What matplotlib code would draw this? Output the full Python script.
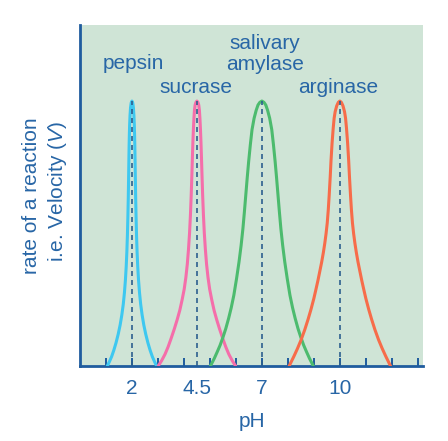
"""
Enzyme activity vs pH: optimum pH of four enzymes.
"""
import matplotlib.pyplot as plt

plt.rcParams["font.family"] = ["Liberation Sans", "DejaVu Sans"]
plt.rcParams["mathtext.fontset"] = "custom"
plt.rcParams["mathtext.rm"] = "Liberation Sans"
plt.rcParams["mathtext.it"] = "Liberation Sans:italic"

# optimum pH of each enzyme
enzymes = ["pepsin", "sucrase", "salivary amylase", "arginase"]
optimum_ph = [2, 4.5, 7, 10]
tick_labels = ["2", "4.5", "7", "10"]

# curves (rate relative to the peak)
pepsin_ph = [1.05, 1.13, 1.215, 1.30, 1.385, 1.47, 1.545, 1.61, 1.665, 1.71, 1.748, 1.778,
             1.803, 1.825, 1.843, 1.858, 1.87, 1.88, 1.89, 1.90, 1.91, 1.925, 1.945, 1.97, 2.0,
             2.03, 2.055, 2.075, 2.09, 2.10, 2.11, 2.12, 2.13, 2.142, 2.157, 2.175, 2.197,
             2.222, 2.252, 2.29, 2.335, 2.39, 2.455, 2.53, 2.615, 2.70, 2.785, 2.87, 2.95]
pepsin_rate = [0, .016, .035, .059, .087, .12, .155, .193, .233, .277, .325, .375,
               .43, .495, .565, .635, .705, .77, .83, .875, .91, .945, .975, .993, 1.0,
               .993, .975, .945, .91, .875, .83, .77, .705, .635, .565, .495, .43,
               .375, .325, .277, .233, .193, .155, .12, .087, .059, .035, .016, 0]

sucrase_ph = [3.01, 3.14, 3.27, 3.39, 3.51, 3.63, 3.74, 3.84, 3.93, 4.01, 4.075, 4.13,
              4.175, 4.215, 4.25, 4.28, 4.305, 4.325, 4.345, 4.365, 4.385, 4.405, 4.43, 4.46, 4.5,
              4.54, 4.57, 4.595, 4.615, 4.635, 4.655, 4.675, 4.695, 4.72, 4.75, 4.785, 4.825,
              4.87, 4.925, 4.99, 5.07, 5.16, 5.26, 5.37, 5.49, 5.61, 5.73, 5.86, 5.99]
sucrase_rate = [0, .02, .044, .072, .105, .14, .175, .21, .25, .29, .335, .385,
                .44, .50, .57, .645, .72, .785, .845, .895, .935, .965, .985, .995, 1.0,
                .995, .985, .965, .935, .895, .845, .785, .72, .645, .57, .50, .44,
                .385, .335, .29, .25, .21, .175, .14, .105, .072, .044, .02, 0]

amylase_ph = [5.02, 5.17, 5.28, 5.39, 5.50, 5.61, 5.72, 5.82, 5.92, 6.025, 6.12, 6.20,
              6.27, 6.325, 6.38, 6.435, 6.49, 6.555, 6.62, 6.70, 6.78, 6.85, 6.92, 7.0,
              7.08, 7.15, 7.22, 7.30, 7.38, 7.445, 7.51, 7.565, 7.62, 7.675, 7.73, 7.80,
              7.88, 7.975, 8.08, 8.18, 8.28, 8.39, 8.50, 8.61, 8.72, 8.83, 8.98]
amylase_rate = [0, .029, .053, .078, .108, .141, .18, .22, .267, .33, .393, .455,
                .519, .58, .645, .71, .771, .835, .892, .935, .965, .985, .995, 1.0,
                .995, .985, .965, .935, .892, .835, .771, .71, .645, .58, .519, .455,
                .393, .33, .267, .22, .18, .141, .108, .078, .053, .029, 0]

arginase_ph = [8.05, 8.13, 8.23, 8.37, 8.51, 8.65, 8.78, 8.89, 9.0, 9.075, 9.155, 9.23,
               9.30, 9.365, 9.42, 9.47, 9.515, 9.555, 9.59, 9.63, 9.66, 9.70, 9.744, 9.78,
               9.82, 9.88, 9.94, 10.0,
               10.06, 10.12, 10.18, 10.22, 10.256, 10.30, 10.34, 10.37, 10.41, 10.445,
               10.485, 10.53, 10.58, 10.635, 10.70, 10.77, 10.845, 10.925, 11.0, 11.11,
               11.22, 11.35, 11.49, 11.63, 11.77, 11.87, 11.95]
arginase_rate = [0, .016, .036, .066, .099, .137, .177, .214, .255, .287, .322, .358,
                 .392, .428, .463, .50, .54, .59, .645, .715, .775, .84, .897, .935,
                 .96, .982, .995, 1.0,
                 .995, .982, .96, .935, .897, .84, .775, .715, .645, .59,
                 .54, .50, .463, .428, .392, .358, .322, .287, .255, .214,
                 .177, .137, .099, .066, .036, .016, 0]

CURVE_COLORS = ["#3ec8f0", "#f56eaa", "#4cbb6e", "#f76c4a"]
TEXT_BLUE = "#2866a6"
AXIS_BLUE = "#1f5c9e"
DASH_BLUE = "#2c5f8f"
BG_GREEN = "#cfe4d6"

fig = plt.figure(figsize=(4.48, 4.41), dpi=100)
ax = fig.add_axes([80 / 448, 75 / 441, 343 / 448, 341 / 441])
ax.set_facecolor(BG_GREEN)

curves = [(pepsin_ph, pepsin_rate), (sucrase_ph, sucrase_rate),
          (amylase_ph, amylase_rate), (arginase_ph, arginase_rate)]
for (ph, rate), col in zip(curves, CURVE_COLORS):
    ax.plot(ph, rate, color=col, lw=2.2, solid_joinstyle="round",
            solid_capstyle="round", zorder=3)

for ph in optimum_ph:
    ax.plot([ph, ph], [0, 1.0], color=DASH_BLUE, lw=1.2,
            linestyle=(0, (3.0, 2.4)), zorder=4)

# enzyme names
ax.text(2.06, 1.12, "pepsin", ha="center", va="baseline", fontsize=15, color=TEXT_BLUE)
ax.text(4.47, 1.031, "sucrase", ha="center", va="baseline", fontsize=15, color=TEXT_BLUE)
ax.text(7.12, 1.196, "salivary", ha="center", va="baseline", fontsize=15, color=TEXT_BLUE)
ax.text(7.11, 1.117, "amylase", ha="center", va="baseline", fontsize=15, color=TEXT_BLUE)
ax.text(9.93, 1.031, "arginase", ha="center", va="baseline", fontsize=15, color=TEXT_BLUE)

ax.set_xlim(0, 13.2)
ax.set_ylim(0, 1.287)

for side in ["top", "right"]:
    ax.spines[side].set_visible(False)
for side in ["left", "bottom"]:
    ax.spines[side].set_color(AXIS_BLUE)
    ax.spines[side].set_linewidth(2.0)

# unlabelled ticks at every pH unit, labels only at the optima
ax.xaxis.remove_overlapping_locs = False
ax.set_xticks(range(1, 14))
ax.set_xticklabels([])
ax.tick_params(axis="x", which="major", direction="in", length=5.5, width=1.4,
               color=AXIS_BLUE)
ax.set_xticks(optimum_ph, minor=True)
ax.set_xticklabels(tick_labels, minor=True)
ax.tick_params(axis="x", which="minor", length=0, pad=9, labelsize=15,
               labelcolor=TEXT_BLUE)
ax.set_yticks([])

fig.text(252 / 448, 1 - 426.7 / 441, "pH", ha="center", va="baseline",
         fontsize=15, color=TEXT_BLUE)
fig.text(36.7 / 448, 1 - 196 / 441, "rate of a reaction", rotation=90,
         rotation_mode="anchor", ha="center", va="baseline", fontsize=15,
         color=TEXT_BLUE)
fig.text(63.3 / 448, 1 - 191 / 441, "i.e. Velocity ($\\mathit{V}$)", rotation=90,
         rotation_mode="anchor", ha="center", va="baseline", fontsize=15,
         color=TEXT_BLUE)

fig.savefig("out.png", dpi=100)
